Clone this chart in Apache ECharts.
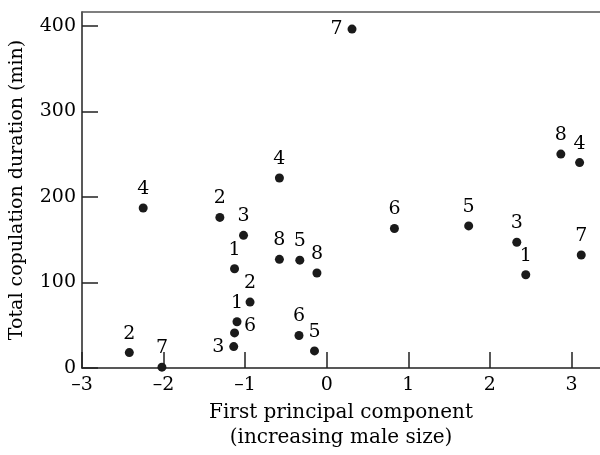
<!DOCTYPE html>
<html>
<head>
<meta charset="utf-8">
<script src="https://cdn.jsdelivr.net/npm/echarts@6/dist/echarts.min.js"></script>
<style>
  html, body { margin: 0; padding: 0; background: #fff; }
  #chart { width: 600px; height: 455px; }
</style>
</head>
<body>
<div id="chart"></div>
<script>
  // first principal component (x), copulation duration in min (y), pair label
  var pcScores = [-2.25, -1.31, -0.58, 0.31, 2.87, 3.10, -1.02, -0.58, -0.33, -0.12, -1.13, -0.94,
    -1.10, -1.13, -1.14, -0.34, -0.15, -2.42, -2.02, 0.83, 1.74, 2.33, 3.12, 2.44]
  var durations = [187, 176, 222, 396, 250, 240, 155, 127, 126, 111, 116, 77,
    54, 41, 25, 38, 20, 18, 1, 163, 166, 147, 132, 109]
  var pairLabels = ['4', '2', '4', '7', '8', '4', '3', '8', '5', '8', '1', '2',
    '1', '6', '3', '6', '5', '2', '7', '6', '5', '3', '7', '1']
  var xTicks = [-3, -2, -1, 0, 1, 2, 3]
  var yTicks = [0, 100, 200, 300, 400]

  // labels not sitting above their dot
  var labelSide = {3: 'left', 13: 'right', 14: 'left'}

  var font = 'DejaVu Serif'
  var ink = '#000'

  var points = pcScores.map(function (x, i) {
    var side = labelSide[i] || 'top'
    var item = {value: [x, durations[i], pairLabels[i]]}
    if (side !== 'top') {
      item.label = {position: side, offset: side === 'right' ? [0, -7] : [0, 0]}
    }
    return item
  })

  var chart = echarts.init(document.getElementById('chart'))
  chart.setOption({
    animation: false,
    textStyle: {fontFamily: font, color: ink},
    grid: {left: 82, right: 0, top: 12, bottom: 87, containLabel: false},
    xAxis: [{
      type: 'value',
      min: xTicks[0],
      max: 3.35,
      interval: 1,
      name: 'First principal component\n(increasing male size)',
      nameLocation: 'middle',
      nameGap: 31,
      nameTextStyle: {fontFamily: font, fontSize: 20, color: ink, lineHeight: 25},
      axisLine: {show: true, onZero: false, lineStyle: {color: '#222', width: 1.5}},
      axisTick: {show: true, inside: true, length: 16, lineStyle: {color: '#222', width: 1.5}},
      axisLabel: {
        fontFamily: font, fontSize: 19, color: ink, margin: 8, showMaxLabel: false,
        formatter: function (v) { return String(v).replace('-', '\u2013') }
      },
      splitLine: {show: false}
    }, {
      type: 'value',
      position: 'top',
      min: xTicks[0],
      max: 3.35,
      axisLine: {show: true, onZero: false, lineStyle: {color: '#555', width: 1.5}},
      axisTick: {show: false},
      axisLabel: {show: false},
      splitLine: {show: false}
    }],
    yAxis: {
      type: 'value',
      min: yTicks[0],
      max: 416,
      interval: 100,
      name: 'Total copulation duration (min)',
      nameLocation: 'middle',
      nameGap: 55,
      nameTextStyle: {fontFamily: font, fontSize: 19, color: ink},
      axisLine: {show: true, onZero: false, lineStyle: {color: '#222', width: 1.5}},
      axisTick: {show: true, inside: true, length: 16, lineStyle: {color: '#222', width: 1.5}},
      axisLabel: {fontFamily: font, fontSize: 19, color: ink, margin: 6, showMaxLabel: false},
      splitLine: {show: false}
    },
    series: [{
      type: 'scatter',
      xAxisIndex: 0,
      symbol: 'circle',
      symbolSize: 9,
      itemStyle: {color: '#1a1a1a', opacity: 1},
      label: {
        show: true,
        position: 'top',
        distance: 5,
        fontFamily: font,
        fontSize: 19,
        color: ink,
        formatter: function (p) { return p.value[2] }
      },
      data: points
    }]
  })
</script>
</body>
</html>
